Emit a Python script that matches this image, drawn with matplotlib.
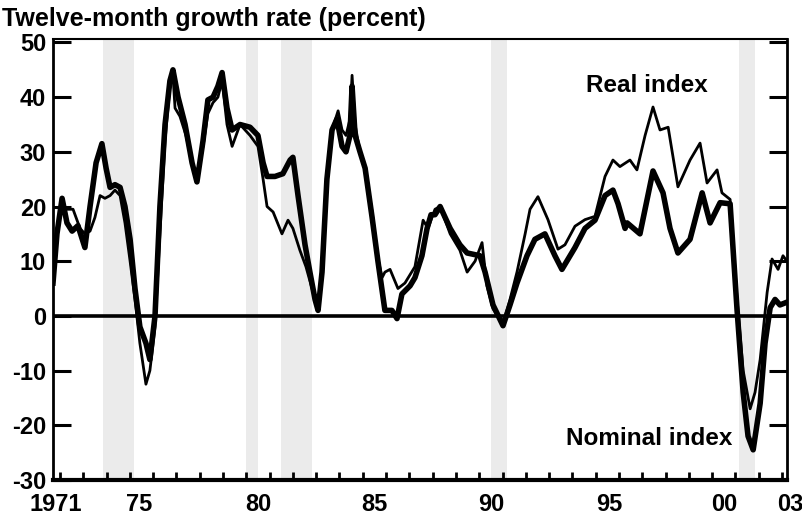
import matplotlib
matplotlib.use("Agg")
import matplotlib.pyplot as plt

plt.rcParams['font.family'] = ['Liberation Sans', 'DejaVu Sans']
plt.rcParams['font.weight'] = 'bold'

# twelve-month growth rates (decimal year, percent)
nominal_t = [1971.70, 1971.87, 1972.09, 1972.30, 1972.52, 1972.77, 1973.07, 1973.29, 1973.55, 1973.80,
             1973.98, 1974.15, 1974.36, 1974.58, 1974.79, 1975.01, 1975.22, 1975.43, 1975.69, 1975.86,
             1976.08, 1976.29, 1976.51, 1976.72, 1976.85, 1977.07, 1977.37, 1977.67, 1977.88, 1978.14,
             1978.35, 1978.57, 1978.78, 1978.96, 1979.17, 1979.39, 1979.73, 1980.16, 1980.50, 1980.72,
             1980.89, 1981.23, 1981.57, 1981.88, 1982.00, 1982.22, 1982.52, 1982.73, 1982.95, 1983.08,
             1983.25, 1983.46, 1983.68, 1983.89, 1984.11, 1984.28, 1984.45, 1984.54, 1984.67, 1984.88,
             1985.10, 1985.40, 1985.65, 1985.95, 1986.25, 1986.47, 1986.68, 1987.03, 1987.24, 1987.54,
             1987.76, 1987.93, 1988.10, 1988.32, 1988.75, 1989.17, 1989.48, 1990.03, 1990.25, 1990.59,
             1991.02, 1991.32, 1991.62, 1992.05, 1992.39, 1992.82, 1993.25, 1993.55, 1994.11, 1994.54,
             1994.97, 1995.40, 1995.74, 1995.96, 1996.26, 1996.35, 1996.90, 1997.46, 1997.89, 1998.19,
             1998.53, 1999.05, 1999.57, 1999.91, 2000.34, 2000.77, 2001.07, 2001.33, 2001.54, 2001.76,
             2002.06, 2002.27, 2002.49, 2002.70, 2002.91, 2003.21]
nominal_v = [6, 15, 21.5, 17, 15.5, 16.5, 12.5, 20, 28, 31.5,
             27, 23.5, 24, 23.5, 20, 14, 5, -2, -5, -8,
             0, 20, 35, 43, 45, 40, 35, 28, 24.5, 32,
             39.5, 40, 42, 44.5, 38, 34, 35, 34.5, 33, 28,
             25.5, 25.5, 26, 28.5, 29, 22, 13, 8, 3, 1,
             8, 25, 34, 36, 31, 30, 33, 42, 33, 30,
             27, 18, 10, 1, 1, -0.5, 4, 5.5, 7, 11,
             16, 18.5, 18.5, 20, 16, 13, 11.5, 11, 8, 2,
             -1.8, 2, 6, 11, 14, 15, 11, 8.5, 12.5, 16,
             17.5, 22, 23, 20.5, 16, 17, 15, 26.5, 22.5, 16,
             11.5, 14, 22.5, 17, 20.7, 20.5, 1, -14, -22, -24.5,
             -16, -5, 1.5, 3, 2, 2.5]

real_t = [1971.70, 1971.87, 1972.09, 1972.30, 1972.56, 1972.86, 1973.07, 1973.29, 1973.50, 1973.72,
          1973.93, 1974.15, 1974.36, 1974.58, 1974.79, 1975.01, 1975.22, 1975.43, 1975.69, 1975.86,
          1976.08, 1976.29, 1976.51, 1976.72, 1976.85, 1976.94, 1977.15, 1977.41, 1977.67, 1977.88,
          1978.14, 1978.35, 1978.57, 1978.78, 1978.96, 1979.17, 1979.39, 1979.73, 1980.16, 1980.50,
          1980.72, 1980.89, 1981.15, 1981.53, 1981.79, 1982.00, 1982.30, 1982.56, 1982.82, 1983.08,
          1983.25, 1983.46, 1983.68, 1983.94, 1984.11, 1984.28, 1984.45, 1984.54, 1984.67, 1984.88,
          1985.10, 1985.40, 1985.65, 1985.83, 1985.95, 1986.17, 1986.51, 1986.81, 1987.24, 1987.59,
          1987.80, 1988.10, 1988.32, 1988.75, 1989.17, 1989.48, 1989.82, 1990.12, 1990.33, 1990.59,
          1991.02, 1991.32, 1991.62, 1991.97, 1992.18, 1992.52, 1992.95, 1993.38, 1993.68, 1994.11,
          1994.54, 1994.97, 1995.40, 1995.74, 1996.04, 1996.47, 1996.77, 1997.12, 1997.46, 1997.76,
          1998.11, 1998.53, 1999.05, 1999.48, 1999.78, 2000.21, 2000.42, 2000.77, 2001.07, 2001.33,
          2001.63, 2001.84, 2002.06, 2002.36, 2002.57, 2002.83, 2003.04, 2003.21]
real_v = [7, 16, 20, 19.5, 19.5, 16, 15, 15.5, 18, 22,
          21.5, 22, 23, 22, 17, 10, 3, -5, -12.5, -10,
          -2, 15, 32, 42, 44, 38, 36.5, 33, 28, 25,
          31, 37, 39, 40, 43, 35, 31, 35, 33, 31,
          25, 20, 19, 15, 17.5, 16, 12, 9, 5, 1,
          7, 24, 34, 37.5, 34, 33, 36, 44, 35, 30,
          27, 19, 10.5, 7, 8, 8.5, 5, 6, 9, 17.5,
          16, 19.5, 20, 15, 12, 8, 10, 13.4, 5.5, 1.3,
          -1.5, 3, 8, 15, 19.5, 21.8, 17.6, 12.2, 13, 16.4,
          17.6, 18.2, 25.5, 28.5, 27.3, 28.5, 26.7, 33, 38.2, 34,
          34.5, 23.6, 28.5, 31.6, 24.3, 26.7, 22.5, 21.3, 3, -10,
          -17, -14, -8, 4.3, 10.4, 8.5, 11, 10]

recessions = [(1973.83, 1975.17), (1980.0, 1980.5), (1981.5, 1982.83),
              (1990.5, 1991.17), (2001.17, 2001.83)]

year_labels = ['1971', '75', '80', '85', '90', '95', '00', '03']
year_label_pos = [1971.8, 1975.4, 1980.5, 1985.5, 1990.5, 1995.6, 2000.5, 2003.35]
year_ticks = list(range(1972, 2004))
y_ticks = list(range(-30, 51, 10))

fig = plt.figure(figsize=(8.03, 5.16), dpi=100)
ax = fig.add_axes([0.066, 0.07, 0.914, 0.854])

for start, end in recessions:
    ax.axvspan(start, end, color='#ebebeb', lw=0, zorder=0)

ax.axhline(0, color='black', lw=2.6, zorder=2)
ax.plot(nominal_t, nominal_v, color='black', lw=4.0, solid_joinstyle='round', zorder=3)
ax.plot(real_t, real_v, color='black', lw=2.0, solid_joinstyle='round', zorder=4)

ax.set_xlim(1971.7, 2003.21)
ax.set_ylim(-30, 50.6)

ax.set_yticks(y_ticks)
ax.set_yticklabels([str(v) for v in y_ticks])
ax.tick_params(axis='y', which='major', direction='in', length=13, width=2.2,
               left=True, right=True, labelsize=17, pad=5)
ax.set_xticks(year_ticks)
ax.set_xticklabels([])
ax.tick_params(axis='x', which='major', direction='in', length=6, width=2, top=False)

for lbl, pos in zip(year_labels, year_label_pos):
    ax.text(pos, -0.03, lbl, transform=ax.get_xaxis_transform(), ha='center', va='top',
            fontsize=17, fontweight='bold', clip_on=False)

ax.spines['left'].set_linewidth(2)
ax.spines['right'].set_linewidth(2)
ax.spines['top'].set_linewidth(1.5)
ax.spines['bottom'].set_linewidth(3)

ax.text(1997.2, 42.2, 'Real index', ha='center', va='center', fontsize=17.5, fontweight='bold')
ax.text(1997.3, -22.4, 'Nominal index', ha='center', va='center', fontsize=17.5, fontweight='bold')

fig.text(0.003, 0.963, 'Twelve-month growth rate (percent)', ha='left', va='center',
         fontsize=18, fontweight='bold')

fig.savefig('out.png', dpi=100)
